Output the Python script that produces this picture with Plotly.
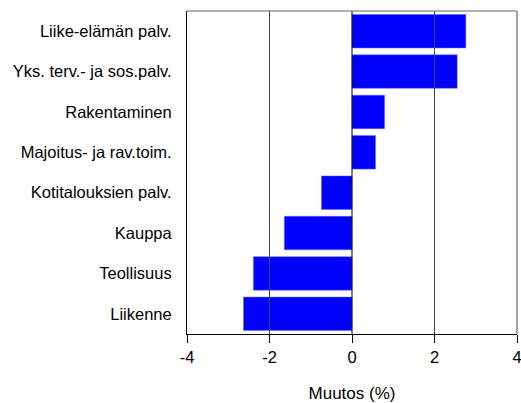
import plotly.graph_objects as go

categories = ["Liikenne", "Teollisuus", "Kauppa", "Kotitalouksien palv.",
              "Majoitus- ja rav.toim.", "Rakentaminen",
              "Yks. terv.- ja sos.palv.", "Liike-elämän palv."]
values = [-2.63, -2.39, -1.64, -0.74, 0.57, 0.79, 2.55, 2.76]
x_ticks = [-4, -2, 0, 2, 4]
grid_at = [-2, 0, 2]

fig = go.Figure()
fig.add_trace(go.Bar(x=values, y=categories, orientation="h",
                     marker=dict(color="#0000ff", line=dict(color="#6666ff", width=0.5))))

# grid lines drawn on top of the bars, like the original
shapes = []
for g in grid_at:
    shapes.append(dict(type="line", xref="x", yref="paper", x0=g, x1=g, y0=0, y1=1,
                       line=dict(color="black" if g == 0 else "#444444", width=1), layer="above"))
# top and right frame
shapes.append(dict(type="line", xref="paper", yref="paper", x0=0, x1=1, y0=1, y1=1,
                   line=dict(color="#666666", width=1.2), layer="above"))
shapes.append(dict(type="line", xref="paper", yref="paper", x0=1, x1=1, y0=0, y1=1,
                   line=dict(color="#444444", width=1), layer="above"))

fig.update_layout(
    width=521, height=403,
    margin=dict(l=187, r=4, t=11, b=69),
    plot_bgcolor="white", paper_bgcolor="white",
    font=dict(family="Liberation Sans, Arial", size=14, color="black"),
    showlegend=False, bargap=0.17, shapes=shapes,
    xaxis=dict(range=[-4, 4], tickvals=x_ticks, ticktext=[str(t) for t in x_ticks],
               showgrid=False, zeroline=False, showline=True, linecolor="black", linewidth=1,
               ticks="outside", ticklen=8, tickcolor="black", ticklabeloverflow="allow",
               automargin=False, tickfont=dict(size=16.5),
               title=dict(text="Muutos (%)", standoff=22, font=dict(size=17))),
    yaxis=dict(showgrid=False, zeroline=False, showline=True, linecolor="black", linewidth=1,
               ticks="", ticklabelstandoff=11, tickfont=dict(size=16.5), automargin=False),
)

# drop the default page margin so the figure fills the window exactly
fig.write_html("out.html", config={"displayModeBar": False},
               post_script="document.body.style.margin = '0';")
